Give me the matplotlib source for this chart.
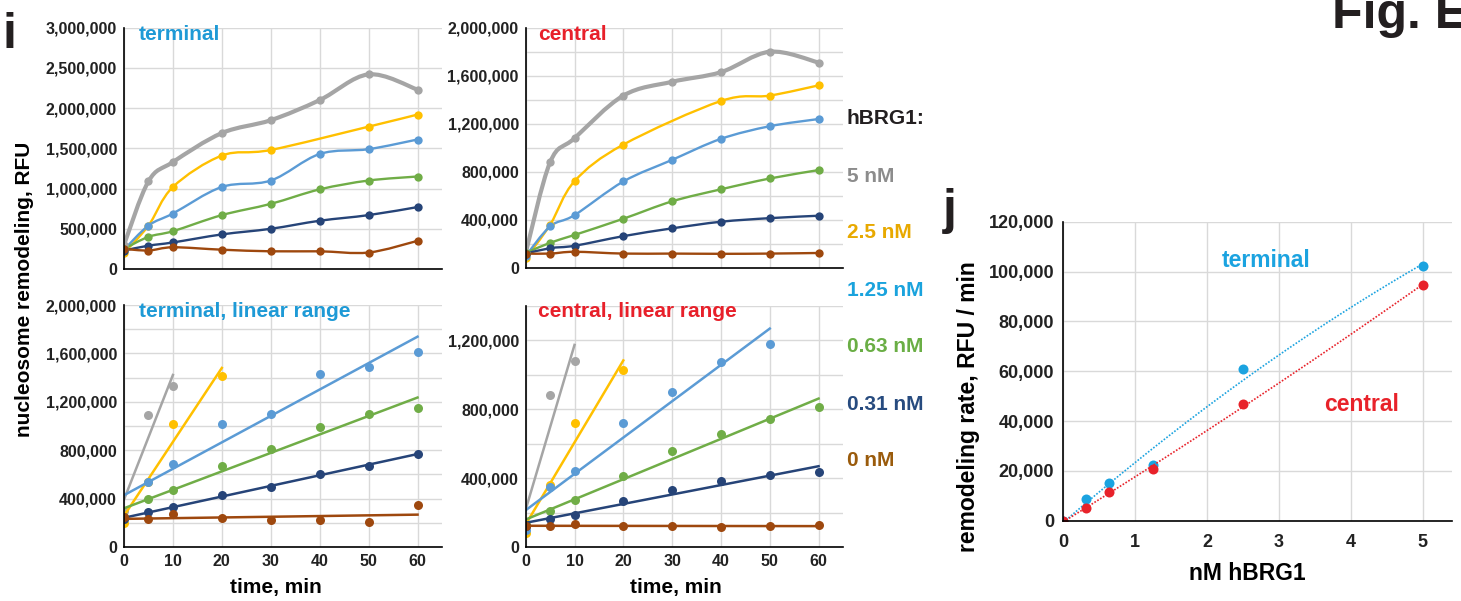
import numpy as np
import matplotlib
matplotlib.use("Agg")
import matplotlib.pyplot as plt
from matplotlib.path import Path
from matplotlib.patches import PathPatch
from matplotlib.ticker import FuncFormatter

plt.rcParams['font.family'] = ['Liberation Sans', 'DejaVu Sans']
plt.rcParams['font.weight'] = 'bold'

# time points, min
t = [0, 5, 10, 20, 30, 40, 50, 60]
nan = np.nan

# terminal nucleosome, RFU
term_5 = [300000, 1090000, 1330000, 1690000, 1850000, 2100000, 2420000, 2230000]
term_2p5 = [200000, 540000, 1020000, 1410000, 1480000, nan, 1770000, 1920000]
term_1p25 = [240000, 540000, 690000, 1020000, 1100000, 1430000, 1490000, 1610000]
term_0p63 = [250000, 400000, 470000, 670000, 810000, 990000, 1100000, 1150000]
term_0p31 = [230000, 290000, 330000, 430000, 500000, 600000, 670000, 770000]
term_0 = [250000, 230000, 270000, 240000, 220000, 220000, 205000, 350000]

# central nucleosome, RFU
cent_5 = [125000, 880000, 1080000, 1435000, 1550000, 1630000, 1800000, 1710000]
cent_2p5 = [80000, 360000, 722000, 1027000, nan, 1390000, 1435000, 1520000]
cent_1p25 = [100000, 346000, 440000, 720000, 900000, 1075000, 1180000, 1240000]
cent_0p63 = [125000, 210000, 275000, 410000, 555000, 655000, 745000, 815000]
cent_0p31 = [120000, 165000, 185000, 265000, 330000, 385000, 415000, 435000]
cent_0 = [120000, 120000, 135000, 120000, 120000, 118000, 120000, 125000]

labels = ['5 nM', '2.5 nM', '1.25 nM', '0.63 nM', '0.31 nM', '0 nM']
line_colors = ['#A5A5A5', '#FFC000', '#5B9BD5', '#70AD47', '#264478', '#9E480E']
text_colors = ['#8C8C8C', '#E8A900', '#1AA3DD', '#6AAE45', '#274B7F', '#9A5B0C']

# number of points used for the linear-range fits
n_fit_term = [3, 4, 8, 8, 8, 8]
n_fit_cent = [3, 4, 7, 8, 8, 8]

# panel j: remodeling rate vs enzyme
conc = [0, 0.31, 0.63, 1.25, 2.5, 5]
rate_term = [0, 8700, 15300, 22300, 60700, 102300]
rate_cent = [0, 4900, 11400, 20600, 46700, 94600]

W, H = 1461, 601
fig = plt.figure(figsize=(W / 100, H / 100), dpi=100)


def add_ax(l, t_, r, b):
    return fig.add_axes([l / W, 1 - b / H, (r - l) / W, (b - t_) / H])


def ftext(x, y, s, **kw):
    fig.text(x / W, 1 - y / H, s, **kw)


fmt = FuncFormatter(lambda v, p: f"{v:,.0f}")
TICK = '#222222'


def style(ax, ymax, ymaj, ymin, xlabels):
    ax.set_xlim(0, 65)
    ax.set_ylim(0, ymax)
    ax.set_xticks(np.arange(0, 61, 10))
    ax.set_yticks(np.arange(0, ymax + 1, ymaj))
    ax.set_yticks(np.arange(0, ymax + 1, ymin), minor=True)
    ax.yaxis.set_major_formatter(fmt)
    ax.grid(True, which='both', color='#D9D9D9', lw=1.0)
    ax.set_axisbelow(True)
    for s in ['top', 'right']:
        ax.spines[s].set_visible(False)
    for s in ['left', 'bottom']:
        ax.spines[s].set_linewidth(1.2)
    ax.tick_params(which='both', length=0, labelsize=11.5, colors=TICK, pad=5)
    if not xlabels:
        ax.set_xticklabels([])


def smooth_line(ax, x, y, color, lw):
    x = np.asarray(x, float)
    y = np.asarray(y, float)
    ok = ~np.isnan(y)
    p = np.column_stack([x[ok], y[ok]])
    n = len(p)
    verts = [p[0]]
    codes = [Path.MOVETO]
    for i in range(n - 1):
        p0 = p[max(i - 1, 0)]
        p3 = p[min(i + 2, n - 1)]
        c1 = p[i] + (p[i + 1] - p0) / 6
        c2 = p[i + 1] - (p3 - p[i]) / 6
        verts += [c1, c2, p[i + 1]]
        codes += [Path.CURVE4] * 3
    ax.add_patch(PathPatch(Path(verts, codes), fc='none', ec=color, lw=lw,
                           capstyle='round', joinstyle='round'))
    ax.plot(x[ok], y[ok], 'o', color=color, ms=6, mew=0)


def linear_panel(ax, series, nfit):
    for ys, c, n in zip(series, line_colors, nfit):
        xs = np.array(t[:n], float)
        yv = np.array(ys[:n], float)
        ax.plot(xs, yv, 'o', color=c, ms=6.5, mew=0)
        k, b0 = np.polyfit(xs, yv, 1)
        ax.plot([0, xs[-1]], [b0, b0 + k * xs[-1]], color=c, lw=1.8)


term = [term_5, term_2p5, term_1p25, term_0p63, term_0p31, term_0]
cent = [cent_5, cent_2p5, cent_1p25, cent_0p63, cent_0p31, cent_0]

ax1 = add_ax(124, 27.7, 442, 269)
style(ax1, 3000000, 500000, 500000, False)
for ys, c in zip(term, line_colors):
    smooth_line(ax1, t, ys, c, 3.0 if c == '#A5A5A5' else 1.7)

ax2 = add_ax(525.7, 27.7, 843, 268)
style(ax2, 2000000, 400000, 200000, False)
for ys, c in zip(cent, line_colors):
    smooth_line(ax2, t, ys, c, 3.0 if c == '#A5A5A5' else 1.7)

ax3 = add_ax(124, 305, 442, 547)
style(ax3, 2000000, 400000, 200000, True)
linear_panel(ax3, term, n_fit_term)

ax4 = add_ax(525.7, 305.7, 843, 547)
style(ax4, 1400000, 400000, 200000, True)
linear_panel(ax4, cent, n_fit_cent)

BLUE = '#1E9AD6'
RED = '#E8202A'
ftext(139, 40, 'terminal', color=BLUE, fontsize=15, va='baseline')
ftext(538, 40, 'central', color=RED, fontsize=15, va='baseline')
ftext(139, 316.7, 'terminal, linear range', color=BLUE, fontsize=15, va='baseline')
ftext(538, 316.7, 'central, linear range', color=RED, fontsize=15, va='baseline')

ftext(25, 289, 'nucleosome remodeling, RFU', rotation=90, fontsize=15,
      ha='center', va='center')
ftext(276, 588, 'time, min', fontsize=15, ha='center', va='center')
ftext(675.5, 588, 'time, min', fontsize=15, ha='center', va='center')

# concentration key
ftext(847, 119, 'hBRG1:', fontsize=15, color='#231F20', va='center')
key_y = [176, 233, 290, 347, 404, 460]
for lab, c, y in zip(labels, text_colors, key_y):
    ftext(847, y, lab, fontsize=15, color=c, va='center')

# panel letters
ftext(2, 48, 'i', fontsize=36, color='#231F20', va='baseline')
ftext(943, 224, 'j', fontsize=36, color='#231F20', va='baseline')
ftext(1332, 28, 'Fig. E', fontsize=36, color='#231F20', va='baseline')

# panel j
axj = add_ax(1063.3, 221.7, 1452, 520.7)
axj.set_xlim(0, 5.41)
axj.set_ylim(0, 120000)
axj.set_xticks(range(0, 6))
axj.set_yticks(np.arange(0, 120001, 20000))
axj.yaxis.set_major_formatter(fmt)
axj.grid(True, color='#D9D9D9', lw=1.0)
axj.set_axisbelow(True)
for s in ['top', 'right']:
    axj.spines[s].set_visible(False)
for s in ['left', 'bottom']:
    axj.spines[s].set_linewidth(1.2)
axj.tick_params(length=0, labelsize=13, colors=TICK)
axj.tick_params(axis='x', pad=9.5)
axj.tick_params(axis='y', pad=6.5)

JBLUE = '#1BA3E0'
JRED = '#E8222A'
xx = np.linspace(0, 5, 100)
for rates, c in [(rate_term, JBLUE), (rate_cent, JRED)]:
    axj.plot(conc, rates, 'o', color=c, ms=7.2, mew=0)
    coef = np.polyfit(conc, rates, 2)
    axj.plot(xx, np.polyval(coef, xx), color=c, lw=1.2, ls=(0, (1, 1)))

ftext(1222, 267, 'terminal', color=JBLUE, fontsize=16.5, va='baseline')
ftext(1324, 411, 'central', color=JRED, fontsize=16.5, va='baseline')
ftext(968, 407, 'remodeling rate, RFU / min', rotation=90, fontsize=16.5,
      ha='center', va='center')
ftext(1247, 574, 'nM hBRG1', fontsize=16.5, ha='center', va='center')

fig.savefig('out.png', dpi=100)
